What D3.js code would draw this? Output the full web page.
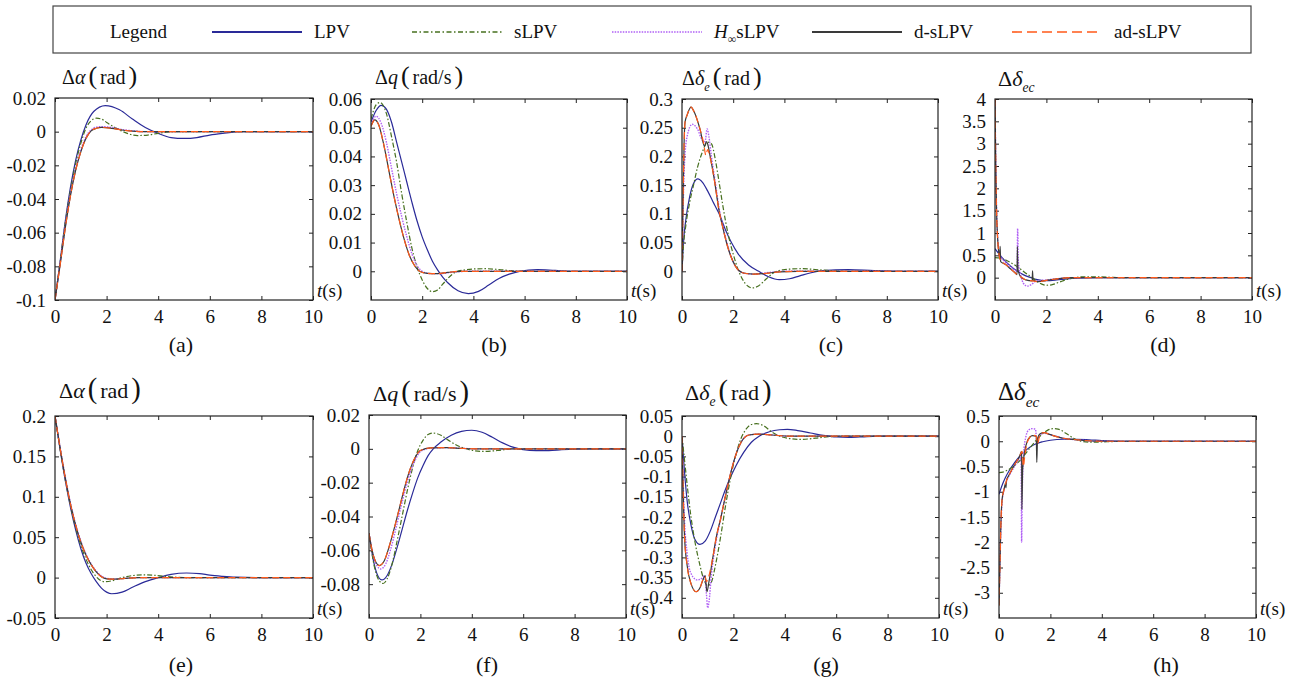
<!DOCTYPE html>
<html>
<head>
<meta charset="UTF-8">
<script src="https://cdn.jsdelivr.net/npm/d3@7"></script>
<style>
  body { margin: 0; background: #fff; }
  svg text { font-family: "Liberation Serif", "DejaVu Serif", "Noto Serif", "Times New Roman", serif; fill: #111; }
</style>
</head>
<body>
<svg id="chart" width="1299" height="686" font-family="Liberation Serif, DejaVu Serif, serif"></svg>
<script>
// ---- data: [t (s), value] ----
const seriesNames = ['LPV', 'sLPV', 'H∞sLPV', 'd-sLPV', 'ad-sLPV'];
const xTicks = [0, 2, 4, 6, 8, 10];

// (a) Δα, case 1
const aTicks = [0.02, 0, -0.02, -0.04, -0.06, -0.08, -0.1];
const aLPV = [[0,-0.1],[0.2,-0.077],[0.4,-0.053],[0.6,-0.033],[0.8,-0.017],[1.0,-0.005],[1.2,0.004],[1.5,0.012],[1.95,0.0155],[2.5,0.013],[3,0.0075],[3.5,0.0025],[4,-0.001],[4.5,-0.0035],[5,-0.004],[5.5,-0.0035],[6,-0.002],[6.5,-0.001],[7.2,0],[10,0]];
const aSLPV = [[0,-0.1],[0.2,-0.077],[0.4,-0.054],[0.6,-0.035],[0.8,-0.019],[1.0,-0.007],[1.2,0.002],[1.4,0.0065],[1.6,0.008],[1.8,0.0075],[2.0,0.0055],[2.4,0.0018],[2.8,-0.001],[3.2,-0.0023],[3.6,-0.002],[4.0,-0.001],[4.6,0],[10,0]];
const aHinf = [[0,-0.1],[0.2,-0.078],[0.4,-0.056],[0.6,-0.037],[0.8,-0.022],[1.0,-0.011],[1.2,-0.003],[1.4,0.001],[1.6,0.0027],[1.8,0.003],[2.2,0.0025],[2.6,0.0013],[3,0.0005],[3.6,0],[10,0]];
const aD = [[0,-0.1],[0.2,-0.079],[0.4,-0.057],[0.6,-0.038],[0.8,-0.023],[1.0,-0.012],[1.2,-0.004],[1.4,0.0005],[1.6,0.002],[1.8,0.0025],[2.2,0.002],[2.6,0.001],[3,0.0003],[3.6,0],[10,0]];

// (b) Δq, case 1
const bTicks = [0.06, 0.05, 0.04, 0.03, 0.02, 0.01, 0];
const bLPV = [[0,0.052],[0.2,0.056],[0.4,0.0578],[0.6,0.0565],[0.8,0.052],[1.0,0.045],[1.2,0.038],[1.4,0.031],[1.6,0.024],[1.8,0.0175],[2.0,0.012],[2.2,0.0075],[2.4,0.0035],[2.6,0.0005],[2.8,-0.002],[3.0,-0.004],[3.4,-0.0068],[3.8,-0.0078],[4.2,-0.007],[4.6,-0.0048],[5.0,-0.0025],[5.4,-0.001],[5.8,0],[6.5,0.0006],[7.2,0.0003],[8,0],[10,0]];
const bSLPV = [[0,0.053],[0.2,0.058],[0.35,0.0588],[0.6,0.055],[0.8,0.047],[1.0,0.038],[1.2,0.027],[1.4,0.017],[1.6,0.008],[1.8,0.0015],[2.0,-0.003],[2.2,-0.006],[2.4,-0.0071],[2.6,-0.0065],[2.8,-0.0045],[3.0,-0.0025],[3.3,-0.0003],[3.6,0.0004],[4.0,0.0008],[4.5,0.0009],[5.0,0.0006],[5.5,0.0002],[6,0],[10,0]];
const bHinf = [[0,0.051],[0.2,0.054],[0.4,0.0515],[0.6,0.045],[0.8,0.036],[1.0,0.027],[1.2,0.019],[1.4,0.012],[1.6,0.006],[1.8,0.002],[2.0,0],[2.3,-0.0008],[2.7,-0.0008],[3.2,-0.0003],[3.8,0],[10,0]];
const bD = [[0,0.0505],[0.15,0.0527],[0.3,0.051],[0.5,0.044],[0.7,0.035],[0.9,0.026],[1.1,0.018],[1.3,0.011],[1.5,0.0055],[1.7,0.002],[1.9,0],[2.2,-0.0007],[2.6,-0.0008],[3.0,-0.0004],[3.5,0],[10,0]];

// (c) Δδe, case 1
const cTicks = [0.3, 0.25, 0.2, 0.15, 0.1, 0.05, 0];
const cLPV = [[0,0],[0.05,0.045],[0.15,0.09],[0.3,0.13],[0.45,0.153],[0.62,0.161],[0.8,0.155],[1.0,0.14],[1.2,0.122],[1.45,0.1],[1.7,0.072],[1.93,0.05],[2.2,0.03],[2.6,0.011],[3.0,0],[3.4,-0.01],[3.8,-0.0145],[4.2,-0.013],[4.6,-0.008],[5.0,-0.003],[5.5,0.001],[6.5,0.003],[7.5,0.001],[8.5,0],[10,0]];
const cSLPV = [[0,0],[0.05,0.04],[0.15,0.08],[0.3,0.12],[0.45,0.15],[0.6,0.18],[0.8,0.208],[1.0,0.225],[1.15,0.222],[1.3,0.195],[1.45,0.155],[1.6,0.113],[1.8,0.065],[2.0,0.03],[2.2,0.002],[2.45,-0.02],[2.75,-0.029],[3.0,-0.025],[3.3,-0.013],[3.6,-0.002],[4.0,0.003],[4.7,0.0045],[5.5,0.002],[6.5,0],[10,0]];
const cHinf = [[0,0],[0.05,0.12],[0.1,0.19],[0.2,0.235],[0.4,0.256],[0.6,0.248],[0.8,0.228],[0.9,0.226],[0.98,0.248],[1.05,0.235],[1.15,0.2],[1.3,0.155],[1.45,0.11],[1.6,0.078],[1.75,0.05],[1.9,0.028],[2.1,0.008],[2.4,-0.003],[2.8,-0.005],[3.4,-0.002],[4,0],[10,0]];
const cDs = [[0,0],[0.04,0.12],[0.08,0.22],[0.12,0.26],[0.2,0.272],[0.35,0.286],[0.5,0.275],[0.7,0.248],[0.88,0.218],[0.95,0.226],[1.0,0.222],[1.1,0.2],[1.25,0.163],[1.45,0.105],[1.6,0.075],[1.75,0.048],[1.9,0.027],[2.1,0.008],[2.4,-0.003],[2.8,-0.005],[3.2,-0.004],[3.8,-0.001],[4.5,0],[10,0]];
const cAds = [[0,0],[0.04,0.12],[0.08,0.22],[0.12,0.26],[0.2,0.272],[0.35,0.286],[0.5,0.275],[0.7,0.248],[0.85,0.222],[0.93,0.202],[1.0,0.212],[1.1,0.198],[1.25,0.163],[1.45,0.105],[1.6,0.075],[1.75,0.048],[1.9,0.027],[2.1,0.008],[2.4,-0.003],[2.8,-0.005],[3.2,-0.004],[3.8,-0.001],[4.5,0],[10,0]];

// (d) Δδec, case 1
const dTicks = [4, 3.5, 3, 2.5, 2, 1.5, 1, 0.5, 0];
const dLPV = [[0,0.65],[0.2,0.5],[0.4,0.37],[0.6,0.26],[0.8,0.17],[1.0,0.1],[1.2,0.04],[1.4,0],[1.6,-0.04],[1.8,-0.06],[2.0,-0.065],[2.4,-0.05],[2.8,-0.025],[3.2,-0.01],[4,0],[10,0]];
const dSLPV = [[0,0.45],[0.2,0.44],[0.4,0.4],[0.6,0.34],[0.8,0.27],[1.0,0.19],[1.2,0.1],[1.4,0.02],[1.6,-0.07],[1.8,-0.14],[2.0,-0.17],[2.2,-0.16],[2.5,-0.1],[2.8,-0.04],[3.1,0],[3.5,0.02],[4,0.02],[4.6,0.005],[5.2,0],[10,0]];
const dHinf = [[0,4],[0.03,2.6],[0.06,1.6],[0.1,0.95],[0.15,0.62],[0.25,0.45],[0.4,0.35],[0.6,0.25],[0.8,0.16],[0.86,0.14],[0.88,1.1],[0.91,0.35],[1.0,0.05],[1.1,-0.12],[1.25,-0.19],[1.4,-0.16],[1.6,-0.08],[2.0,-0.05],[2.5,-0.02],[3,0],[10,0]];
const dDs = [[0,4],[0.03,2.5],[0.06,1.5],[0.1,0.9],[0.15,0.55],[0.19,0.42],[0.2,0.7],[0.22,0.36],[0.4,0.3],[0.6,0.2],[0.8,0.1],[0.86,0.07],[0.87,0.7],[0.89,0.2],[1.0,0.02],[1.2,-0.05],[1.45,-0.07],[1.46,0.15],[1.48,-0.05],[1.7,-0.09],[2.0,-0.06],[2.5,-0.02],[3,0],[10,0]];
const dAds = [[0,4],[0.03,2.5],[0.06,1.5],[0.1,0.9],[0.15,0.55],[0.22,0.38],[0.4,0.3],[0.6,0.2],[0.8,0.1],[0.9,0.05],[1.0,0.02],[1.2,-0.05],[1.45,-0.07],[1.7,-0.09],[2.0,-0.06],[2.5,-0.02],[3,0],[10,0]];

// (e) Δα, case 2
const eTicks = [0.2, 0.15, 0.1, 0.05, 0, -0.05];
const eLPV = [[0,0.2],[0.2,0.158],[0.4,0.12],[0.6,0.087],[0.8,0.059],[1.0,0.036],[1.2,0.018],[1.4,0.005],[1.6,-0.005],[1.8,-0.013],[2.0,-0.018],[2.2,-0.02],[2.6,-0.018],[3,-0.012],[3.5,-0.005],[4,0],[4.5,0.004],[5.1,0.0057],[5.6,0.005],[6,0.003],[6.5,0.0015],[7,0.0005],[8,0],[10,0]];
const eSLPV = [[0,0.2],[0.2,0.159],[0.4,0.121],[0.6,0.089],[0.8,0.062],[1.0,0.04],[1.2,0.023],[1.4,0.01],[1.6,0.001],[1.9,-0.005],[2.2,-0.004],[2.6,0],[3,0.0025],[3.4,0.0035],[3.8,0.003],[4.3,0.0015],[5,0],[10,0]];
const eHinf = [[0,0.2],[0.2,0.161],[0.4,0.124],[0.6,0.092],[0.8,0.066],[1.0,0.045],[1.2,0.029],[1.4,0.017],[1.6,0.008],[1.8,0.002],[2.0,-0.001],[2.3,-0.0018],[2.7,-0.001],[3.2,0],[10,0]];
const eD = [[0,0.2],[0.2,0.16],[0.4,0.123],[0.6,0.091],[0.8,0.065],[1.0,0.044],[1.2,0.028],[1.4,0.016],[1.6,0.007],[1.8,0.001],[2.0,-0.0015],[2.3,-0.002],[2.7,-0.001],[3.2,0],[10,0]];

// (f) Δq, case 2
const fTicks = [0.02, 0, -0.02, -0.04, -0.06, -0.08];
const fLPV = [[0,-0.05],[0.2,-0.068],[0.4,-0.0765],[0.5,-0.0775],[0.7,-0.075],[0.9,-0.068],[1.1,-0.058],[1.3,-0.047],[1.5,-0.036],[1.7,-0.026],[1.9,-0.017],[2.1,-0.01],[2.3,-0.004],[2.5,0],[2.8,0.004],[3.2,0.008],[3.6,0.0103],[4.0,0.011],[4.4,0.0098],[4.8,0.0068],[5.2,0.0035],[5.6,0.001],[6,-0.0005],[6.5,-0.001],[7,-0.001],[7.5,-0.0005],[8.5,0],[10,0]];
const fSLPV = [[0,-0.05],[0.2,-0.069],[0.4,-0.078],[0.55,-0.0796],[0.7,-0.077],[0.9,-0.068],[1.1,-0.054],[1.3,-0.039],[1.5,-0.024],[1.7,-0.011],[1.9,-0.001],[2.1,0.005],[2.3,0.0085],[2.5,0.0093],[2.8,0.008],[3.1,0.005],[3.5,0.0015],[3.9,-0.0005],[4.4,-0.0015],[5,-0.001],[5.6,0],[10,0]];
const fHinf = [[0,-0.05],[0.2,-0.065],[0.45,-0.071],[0.65,-0.068],[0.85,-0.059],[1.05,-0.047],[1.25,-0.034],[1.45,-0.022],[1.65,-0.012],[1.85,-0.005],[2.05,-0.001],[2.5,0.0006],[3.0,0.0007],[3.6,0.0003],[4.2,0],[10,0]];
const fD = [[0,-0.05],[0.15,-0.062],[0.4,-0.069],[0.6,-0.066],[0.8,-0.057],[1.0,-0.046],[1.2,-0.034],[1.4,-0.022],[1.6,-0.012],[1.8,-0.005],[2.0,-0.001],[2.4,0.0006],[3.0,0.0007],[3.6,0.0003],[4.2,0],[10,0]];

// (g) Δδe, case 2
const gTicks = [0.05, 0, -0.05, -0.1, -0.15, -0.2, -0.25, -0.3, -0.35, -0.4];
const gLPV = [[0,0],[0.1,-0.09],[0.2,-0.16],[0.35,-0.22],[0.5,-0.255],[0.7,-0.268],[0.9,-0.26],[1.1,-0.235],[1.3,-0.2],[1.5,-0.165],[1.7,-0.13],[1.9,-0.1],[2.1,-0.073],[2.4,-0.04],[2.7,-0.015],[3.0,0],[3.4,0.011],[3.8,0.016],[4.1,0.017],[4.5,0.014],[5,0.008],[5.5,0.002],[6,-0.002],[6.5,-0.003],[7.2,-0.001],[8,0],[10,0]];
const gSLPV = [[0,0],[0.1,-0.06],[0.2,-0.12],[0.35,-0.2],[0.5,-0.26],[0.7,-0.32],[0.85,-0.355],[1.0,-0.37],[1.15,-0.36],[1.3,-0.32],[1.5,-0.25],[1.7,-0.17],[1.9,-0.1],[2.1,-0.045],[2.3,-0.005],[2.5,0.018],[2.7,0.029],[2.9,0.031],[3.2,0.025],[3.5,0.01],[3.8,0],[4.2,-0.006],[4.6,-0.008],[5.2,-0.005],[5.8,-0.001],[6.5,0],[10,0]];
const gHinf = [[0,0],[0.05,-0.12],[0.1,-0.21],[0.2,-0.29],[0.35,-0.34],[0.6,-0.356],[0.8,-0.35],[0.88,-0.345],[0.95,-0.39],[1.0,-0.425],[1.05,-0.41],[1.15,-0.34],[1.3,-0.27],[1.5,-0.205],[1.7,-0.145],[1.9,-0.09],[2.1,-0.045],[2.3,-0.015],[2.6,0.003],[3.0,0.005],[3.5,0.003],[4.2,0],[10,0]];
const gDs = [[0,0],[0.05,-0.15],[0.1,-0.25],[0.2,-0.32],[0.35,-0.365],[0.55,-0.385],[0.7,-0.375],[0.85,-0.35],[0.9,-0.345],[0.97,-0.385],[1.05,-0.36],[1.2,-0.3],[1.35,-0.245],[1.5,-0.205],[1.7,-0.145],[1.9,-0.09],[2.1,-0.045],[2.3,-0.015],[2.6,0.003],[3.0,0.005],[3.5,0.003],[4.2,0],[10,0]];
const gAds = [[0,0],[0.05,-0.15],[0.1,-0.25],[0.2,-0.32],[0.35,-0.365],[0.55,-0.385],[0.7,-0.375],[0.85,-0.35],[0.9,-0.348],[0.95,-0.36],[1.05,-0.345],[1.2,-0.3],[1.35,-0.245],[1.5,-0.205],[1.7,-0.145],[1.9,-0.09],[2.1,-0.045],[2.3,-0.015],[2.6,0.003],[3.0,0.005],[3.5,0.003],[4.2,0],[10,0]];

// (h) Δδec, case 2
const hTicks = [0.5, 0, -0.5, -1, -1.5, -2, -2.5, -3];
const hLPV = [[0,-1.05],[0.1,-0.9],[0.25,-0.72],[0.4,-0.58],[0.6,-0.43],[0.8,-0.3],[1.0,-0.2],[1.2,-0.12],[1.4,-0.06],[1.7,-0.01],[2.0,0.02],[2.5,0.04],[3,0.04],[3.5,0.03],[4,0.015],[4.5,0.005],[5,0],[10,0]];
const hSLPV = [[0,-0.62],[0.15,-0.61],[0.3,-0.58],[0.5,-0.52],[0.7,-0.44],[0.9,-0.33],[1.1,-0.2],[1.3,-0.07],[1.5,0.05],[1.7,0.15],[1.9,0.22],[2.1,0.25],[2.3,0.24],[2.6,0.16],[2.9,0.06],[3.2,0],[3.6,-0.02],[4.2,-0.01],[5,0],[10,0]];
const hHinf = [[0,-3.2],[0.03,-2.6],[0.07,-1.8],[0.12,-1.2],[0.2,-0.95],[0.3,-0.78],[0.45,-0.63],[0.6,-0.5],[0.75,-0.38],[0.86,-0.32],[0.88,-2.0],[0.9,-1.2],[0.95,-0.3],[1.05,0.1],[1.15,0.22],[1.3,0.25],[1.42,0.24],[1.47,0.0],[1.55,0.1],[1.75,0.16],[2.0,0.13],[2.5,0.06],[3,0.03],[4,0],[10,0]];
const hDs = [[0,-3.25],[0.03,-2.6],[0.07,-1.7],[0.12,-1.15],[0.2,-0.95],[0.26,-0.83],[0.27,-0.92],[0.29,-0.78],[0.4,-0.66],[0.6,-0.47],[0.8,-0.3],[0.88,-0.2],[0.89,-1.35],[0.92,-0.55],[1.0,-0.2],[1.1,0.0],[1.2,0.08],[1.3,0.11],[1.45,0.1],[1.47,-0.42],[1.5,0.05],[1.6,0.15],[1.75,0.17],[2.0,0.13],[2.5,0.06],[3,0.03],[4,0],[10,0]];
const hAds = [[0,-3.25],[0.03,-2.6],[0.07,-1.7],[0.12,-1.15],[0.2,-0.95],[0.28,-0.8],[0.4,-0.66],[0.6,-0.47],[0.8,-0.3],[0.9,-0.2],[0.95,-0.5],[1.0,-0.3],[1.1,-0.02],[1.2,0.08],[1.3,0.12],[1.45,0.1],[1.5,-0.05],[1.6,0.14],[1.75,0.17],[2.0,0.13],[2.5,0.06],[3,0.03],[4,0],[10,0]];

// ---- styles ----
const FONT = '"Liberation Serif", "DejaVu Serif", "Noto Serif", serif';
const colors = ['#2a2a98', '#47701f', '#b060f5', '#3a3a3a', '#ff5a1a'];
const dashes = [null, '5,2,1.5,2', '1.5,1.2', null, '7,4'];
const legendDashes = [null, '5,2.5,1.5,2.5', '1.5,1.2', null, '10,5'];

// title pieces: [text, kind]
const tAlpha = [['Δ'], ['α', 'i'], ['(', 'p'], ['rad', 'r'], [')', 'p']];
const tQ = [['Δ'], ['q', 'i'], ['(', 'p'], ['rad/s', 'r'], [')', 'p']];
const tDe = [['Δ'], ['δ', 'i'], ['e', 'sub'], ['(', 'p'], ['rad', 'r'], [')', 'p']];
const tDec = [['Δ'], ['δ', 'i'], ['ec', 'sub']];

const panels = [
  {l: 55,  t: 98,  r: 313,  b: 300, ydom: [-0.1, 0.02],  ticks: aTicks, lines: [aLPV, aSLPV, aHinf, aD, aD],     title: tAlpha, tx: 62,  ty: 84,  fs: 20, lab: '(a)', lx: 181,  ly: 352},
  {l: 371, t: 99,  r: 627,  b: 300, ydom: [-0.01, 0.06], ticks: bTicks, lines: [bLPV, bSLPV, bHinf, bD, bD],     title: tQ,     tx: 375, ty: 84,  fs: 20, lab: '(b)', lx: 494,  ly: 352},
  {l: 682, t: 99,  r: 938,  b: 300, ydom: [-0.05, 0.3],  ticks: cTicks, lines: [cLPV, cSLPV, cHinf, cDs, cAds],  title: tDe,    tx: 682, ty: 85,  fs: 20, lab: '(c)', lx: 831,  ly: 352},
  {l: 995, t: 99,  r: 1252, b: 300, ydom: [-0.5, 4],     ticks: dTicks, lines: [dLPV, dSLPV, dHinf, dDs, dAds],  title: tDec,   tx: 998, ty: 86,  fs: 22, lab: '(d)', lx: 1163, ly: 352},
  {l: 55,  t: 416, r: 313,  b: 618, ydom: [-0.05, 0.2],  ticks: eTicks, lines: [eLPV, eSLPV, eHinf, eD, eD],     title: tAlpha, tx: 59,  ty: 398, fs: 22, lab: '(e)', lx: 181,  ly: 672},
  {l: 369, t: 415, r: 626,  b: 618, ydom: [-0.1, 0.02],  ticks: fTicks, lines: [fLPV, fSLPV, fHinf, fD, fD],     title: tQ,     tx: 373, ty: 401, fs: 22, lab: '(f)', lx: 487,  ly: 672},
  {l: 682, t: 416, r: 939,  b: 618, ydom: [-0.45, 0.05], ticks: gTicks, lines: [gLPV, gSLPV, gHinf, gDs, gAds],  title: tDe,    tx: 685, ty: 400, fs: 22, lab: '(g)', lx: 826,  ly: 672},
  {l: 999, t: 416, r: 1256, b: 618, ydom: [-3.5, 0.5],   ticks: hTicks, lines: [hLPV, hSLPV, hHinf, hDs, hAds],  title: tDec,   tx: 998, ty: 400, fs: 25, lab: '(h)', lx: 1166, ly: 672}
];

const svg = d3.select('#chart');
const fmt = v => String(+v.toFixed(3));

function drawTitle(g, x, y, fs, parts) {
  const text = g.append('text').attr('x', x).attr('y', y).attr('font-size', fs).attr('font-family', FONT);
  let shift = 0;
  parts.forEach(p => {
    const s = text.append('tspan').text(p[0]);
    let dy = 0;
    if (p[1] === 'i') s.attr('font-style', 'italic');
    if (p[1] === 'sub') { s.attr('font-size', fs * 0.62).attr('font-style', 'italic'); dy = fs * 0.28; }
    if (p[1] === 'p') s.attr('font-size', fs * 1.3).attr('dx', 3);
    if (p[1] === 'r') s.attr('dx', 3);
    if (dy !== shift) { s.attr('dy', dy - shift); shift = dy; }
  });
}

function styleAxis(sel) {
  sel.attr('font-family', FONT);
  sel.select('.domain').remove();
  sel.selectAll('line').attr('stroke', '#222');
  sel.selectAll('text').attr('font-family', FONT).attr('font-size', 19).attr('fill', '#111');
}

panels.forEach((p, i) => {
  const g = svg.append('g');
  const x = d3.scaleLinear().domain([0, 10]).range([p.l, p.r]);
  const y = d3.scaleLinear().domain(p.ydom).range([p.b, p.t]);

  g.append('clipPath').attr('id', 'clip' + i)
    .append('rect').attr('x', p.l).attr('y', p.t).attr('width', p.r - p.l).attr('height', p.b - p.t);

  g.append('g').attr('transform', `translate(0,${p.b})`)
    .call(d3.axisBottom(x).tickValues(xTicks).tickSize(-4).tickSizeOuter(0).tickPadding(10).tickFormat(fmt))
    .call(styleAxis)
    .selectAll('text').attr('dy', null).attr('y', 23);
  g.append('g').attr('transform', `translate(0,${p.t})`)
    .call(d3.axisTop(x).tickValues(xTicks).tickSize(-4).tickSizeOuter(0).tickFormat(''))
    .call(styleAxis);
  g.append('g').attr('transform', `translate(${p.l},0)`)
    .call(d3.axisLeft(y).tickValues(p.ticks).tickSize(-4).tickSizeOuter(0).tickPadding(9).tickFormat(fmt))
    .call(styleAxis);
  g.append('g').attr('transform', `translate(${p.r},0)`)
    .call(d3.axisRight(y).tickValues(p.ticks).tickSize(-4).tickSizeOuter(0).tickFormat(''))
    .call(styleAxis);

  const line = d3.line().x(d => x(d[0])).y(d => y(d[1])).curve(d3.curveMonotoneX);
  const lg = g.append('g').attr('clip-path', `url(#clip${i})`);
  p.lines.forEach((data, k) => {
    lg.append('path').datum(data)
      .attr('d', line)
      .attr('fill', 'none')
      .attr('stroke', colors[k])
      .attr('stroke-width', k === 2 ? 1.4 : 1.2)
      .attr('stroke-dasharray', dashes[k]);
  });

  g.append('rect').attr('x', p.l).attr('y', p.t).attr('width', p.r - p.l).attr('height', p.b - p.t)
    .attr('fill', 'none').attr('stroke', '#222').attr('stroke-width', 1.2);

  drawTitle(g, p.tx, p.ty, p.fs, p.title);

  const ts = g.append('text').attr('x', p.r + 4).attr('y', p.b - 3).attr('font-size', 19).attr('font-family', FONT);
  ts.append('tspan').attr('font-style', 'italic').text('t');
  ts.append('tspan').text('(s)');

  g.append('text').attr('x', p.lx).attr('y', p.ly).attr('text-anchor', 'middle')
    .attr('font-size', 22).attr('font-family', FONT).text(p.lab);
});

// ---- legend ----
const leg = svg.append('g').attr('font-family', FONT);
leg.append('rect').attr('x', 53).attr('y', 6).attr('width', 1198).attr('height', 47)
  .attr('fill', '#fff').attr('stroke', '#444').attr('stroke-width', 1.2);
leg.append('text').attr('x', 110).attr('y', 38).attr('font-size', 19).attr('font-family', FONT).text('Legend');
seriesNames.forEach((name, k) => {
  const x0 = 212 + k * 200;
  leg.append('line').attr('x1', x0).attr('x2', x0 + 90).attr('y1', 32).attr('y2', 32)
    .attr('stroke', colors[k]).attr('stroke-width', k === 0 || k === 3 ? 2 : 1.6)
    .attr('stroke-dasharray', legendDashes[k]);
  const t = leg.append('text').attr('x', x0 + 102).attr('y', 38).attr('font-size', 19).attr('font-family', FONT);
  if (name.startsWith('H∞')) {
    t.append('tspan').attr('font-style', 'italic').text('H');
    t.append('tspan').attr('font-size', 12).attr('dy', 5).text('∞');
    t.append('tspan').attr('dy', -5).text('sLPV');
  } else {
    t.text(name);
  }
});
</script>
</body>
</html>
